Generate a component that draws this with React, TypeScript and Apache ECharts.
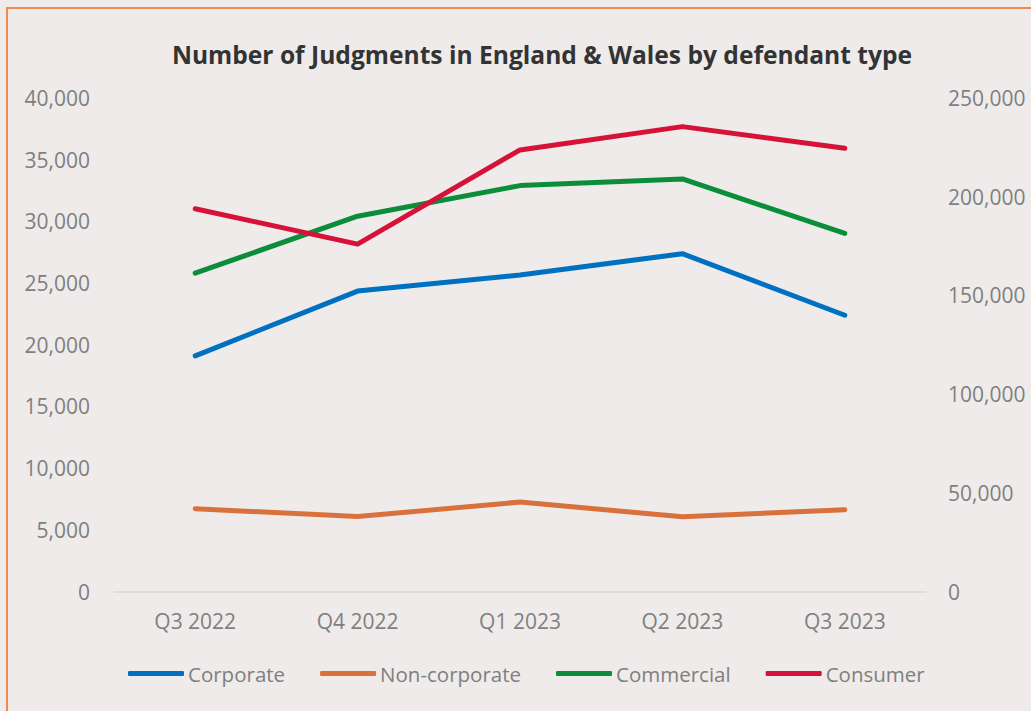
import React, { useEffect, useRef } from "react";
import * as echarts from "echarts";

const categories = ["Q3 2022", "Q4 2022", "Q1 2023", "Q2 2023", "Q3 2023"];
const corporate = [19100, 24350, 25650, 27380, 22390];
const nonCorporate = [6710, 6070, 7250, 6060, 6630];
const commercial = [25810, 30420, 32900, 33440, 29020];
const consumer = [193900, 176000, 223700, 235500, 224500];

const leftTicks = { min: 0, max: 40000, interval: 5000 };
const rightTicks = { min: 0, max: 250000, interval: 50000 };

const FONT = "'Open Sans', 'Noto Sans', sans-serif";
const LABEL_COLOR = "#7F7F7F";

export default function App() {
  const ref = useRef<HTMLDivElement>(null);

  useEffect(() => {
    document.body.style.overflow = "hidden";
    document.body.style.background = "#EEEBEA";
    const chart = echarts.init(ref.current!, null, { renderer: "svg" });
    const fmt = (v: number) => v.toLocaleString("en-US");
    const mk = (name: string, data: number[], color: string, yAxisIndex: number) => ({
      name,
      type: "line",
      data,
      yAxisIndex,
      showSymbol: false,
      symbol: "none",
      lineStyle: { color, width: 5, cap: "round", join: "round" },
      itemStyle: { color },
    });
    chart.setOption({
      animation: false,
      textStyle: { fontFamily: FONT },
      title: {
        text: "Number of Judgments in England & Wales by defendant type",
        left: 542,
        top: 42,
        padding: 0,
        textAlign: "center",
        textStyle: { fontFamily: FONT, fontSize: 24.6, fontWeight: "bold", color: "#333333" },
      },
      grid: { left: 114, right: 105, top: 98, bottom: 119.5, containLabel: false },
      legend: {
        bottom: 27,
        left: 128,
        padding: 0,
        icon: "roundRect",
        itemWidth: 56,
        itemHeight: 5,
        itemGap: 35,
        textStyle: { fontFamily: FONT, fontSize: 20.5, color: LABEL_COLOR, padding: [0, 0, 0, -1] },
        data: ["Corporate", "Non-corporate", "Commercial", "Consumer"],
      },
      xAxis: {
        type: "category",
        data: categories,
        boundaryGap: true,
        axisLine: { show: true, lineStyle: { color: "#D9D9D9", width: 1.5 } },
        axisTick: { show: false },
        axisLabel: { color: LABEL_COLOR, fontSize: 21, fontFamily: FONT, margin: 19 },
        splitLine: { show: false },
      },
      yAxis: [
        {
          type: "value",
          ...leftTicks,
          axisLine: { show: false },
          axisTick: { show: false },
          splitLine: { show: false },
          axisLabel: { color: LABEL_COLOR, fontSize: 21, fontFamily: FONT, margin: 24, formatter: fmt },
        },
        {
          type: "value",
          ...rightTicks,
          position: "right",
          axisLine: { show: false },
          axisTick: { show: false },
          splitLine: { show: false },
          axisLabel: { color: LABEL_COLOR, fontSize: 21, fontFamily: FONT, margin: 22, formatter: fmt },
        },
      ],
      series: [
        mk("Corporate", corporate, "#0070C0", 0),
        mk("Non-corporate", nonCorporate, "#D9713D", 0),
        mk("Commercial", commercial, "#0B8D3A", 0),
        mk("Consumer", consumer, "#D61238", 1),
      ],
    });
    return () => chart.dispose();
  }, []);

  return (
    <div style={{ position: "fixed", left: 0, top: 0, width: 1031, height: 711, background: "#EEEBEA", overflow: "hidden" }}>
      <div
        style={{
          position: "absolute",
          left: 6,
          top: 7,
          width: 1200,
          height: 900,
          border: "2px solid #F08A4B",
          boxSizing: "border-box",
        }}
      />
      <div ref={ref} style={{ position: "absolute", left: 0, top: 0, width: 1031, height: 711 }} />
    </div>
  );
}
